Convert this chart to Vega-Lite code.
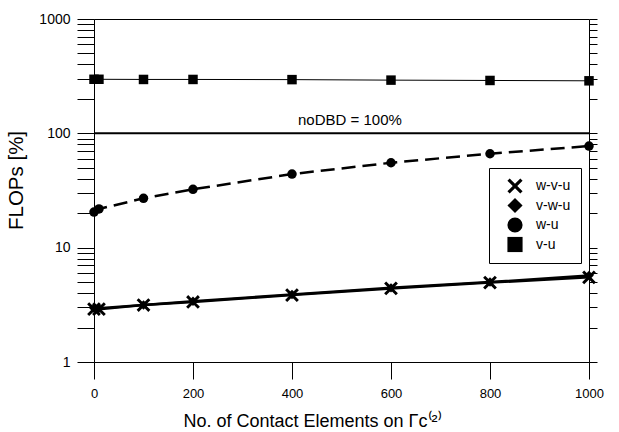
{
  "$schema": "https://vega.github.io/schema/vega-lite/v6.json",
  "width": 495,
  "height": 343,
  "autosize": {"type": "none"},
  "padding": {"left": 94, "top": 19, "right": 30, "bottom": 70},
  "background": "white",
  "config": {
    "font": "Liberation Sans",
    "view": {"stroke": "black", "strokeWidth": 1},
    "axis": {"domainColor": "black", "tickColor": "black", "labelColor": "black", "titleColor": "black", "grid": false, "titleFontWeight": "normal"}
  },
  "datasets": {
    "main": [
      {"n": 0, "value": 2.9, "series": "w-v-u"},
      {"n": 10, "value": 2.9, "series": "w-v-u"},
      {"n": 100, "value": 3.15, "series": "w-v-u"},
      {"n": 200, "value": 3.35, "series": "w-v-u"},
      {"n": 400, "value": 3.85, "series": "w-v-u"},
      {"n": 600, "value": 4.4, "series": "w-v-u"},
      {"n": 800, "value": 4.95, "series": "w-v-u"},
      {"n": 1000, "value": 5.5, "series": "w-v-u"},
      {"n": 0, "value": 2.95, "series": "v-w-u"},
      {"n": 10, "value": 2.95, "series": "v-w-u"},
      {"n": 100, "value": 3.15, "series": "v-w-u"},
      {"n": 200, "value": 3.4, "series": "v-w-u"},
      {"n": 400, "value": 3.9, "series": "v-w-u"},
      {"n": 600, "value": 4.45, "series": "v-w-u"},
      {"n": 800, "value": 5.0, "series": "v-w-u"},
      {"n": 1000, "value": 5.7, "series": "v-w-u"},
      {"n": 0, "value": 20.5, "series": "w-u"},
      {"n": 10, "value": 21.8, "series": "w-u"},
      {"n": 100, "value": 27, "series": "w-u"},
      {"n": 200, "value": 32.4, "series": "w-u"},
      {"n": 400, "value": 44, "series": "w-u"},
      {"n": 600, "value": 55.3, "series": "w-u"},
      {"n": 800, "value": 66.3, "series": "w-u"},
      {"n": 1000, "value": 77.4, "series": "w-u"},
      {"n": 0, "value": 297, "series": "v-u"},
      {"n": 10, "value": 297, "series": "v-u"},
      {"n": 100, "value": 296, "series": "v-u"},
      {"n": 200, "value": 296, "series": "v-u"},
      {"n": 400, "value": 295, "series": "v-u"},
      {"n": 600, "value": 292, "series": "v-u"},
      {"n": 800, "value": 290, "series": "v-u"},
      {"n": 1000, "value": 288, "series": "v-u"}
    ],
    "ref": [{"n": 517, "value": 130, "base": 100, "label": "noDBD = 100%"}]
  },
  "resolve": {"axis": {"y": "independent"}},
  "layer": [
    {
      "data": {"name": "main"},
      "transform": [{"filter": "datum.series == 'w-v-u' || datum.series == 'v-w-u'"}],
      "mark": {"type": "line", "color": "black", "strokeWidth": 2.5},
      "encoding": {
        "x": {
          "field": "n", "type": "quantitative",
          "scale": {"domain": [0, 1000], "nice": false},
          "axis": {"values": [0, 200, 400, 600, 800, 1000], "format": "d", "tickSize": 17, "labelPadding": 8, "labelFontSize": 13, "title": "No. of Contact Elements on Γc⁽²⁾", "titleFontSize": 18, "titlePadding": 12, "titleX": 218, "titleAlign": "center", "labelFlush": false}
        },
        "y": {
          "field": "value", "type": "quantitative",
          "scale": {"type": "log", "domain": [1, 1000], "nice": false},
          "axis": {
            "orient": "left",
            "values": [1, 2, 3, 4, 5, 6, 7, 8, 9, 10, 20, 30, 40, 50, 60, 70, 80, 90, 100, 200, 300, 400, 500, 600, 700, 800, 900, 1000],
            "labelExpr": "(datum.value == 1 || datum.value == 10 || datum.value == 100 || datum.value == 1000) ? format(datum.value, 'd') : ''",
            "tickSize": 17,
            "encode": {"ticks": {"update": {"x2": {"signal": "(datum.value == 1 || datum.value == 10 || datum.value == 100 || datum.value == 1000) ? -17 : -9"}}}},
            "labelPadding": 7, "labelFontSize": 14,
            "title": "FLOPs [%]", "titleFontSize": 20.5, "titlePadding": 12, "titleY": 161, "titleAlign": "center",
            "labelFlush": false
          }
        },
        "detail": {"field": "series"}
      }
    },
    {
      "data": {"name": "main"},
      "transform": [{"filter": "datum.series == 'w-u'"}],
      "mark": {"type": "line", "color": "black", "strokeWidth": 2.5, "strokeDash": [14, 7]},
      "encoding": {
        "x": {"field": "n", "type": "quantitative"},
        "y": {"field": "value", "type": "quantitative", "axis": null}
      }
    },
    {
      "data": {"name": "main"},
      "transform": [{"filter": "datum.series == 'v-u'"}],
      "mark": {"type": "line", "color": "black", "strokeWidth": 1},
      "encoding": {
        "x": {"field": "n", "type": "quantitative"},
        "y": {"field": "value", "type": "quantitative", "axis": null}
      }
    },
    {
      "data": {"name": "ref"},
      "mark": {"type": "rule", "color": "black", "strokeWidth": 2},
      "encoding": {"y": {"field": "base", "type": "quantitative", "axis": null}}
    },
    {
      "data": {"name": "main"},
      "transform": [{"filter": "datum.series != 'w-v-u'"}],
      "mark": {"type": "point", "filled": true, "color": "black", "opacity": 1, "size": 90},
      "encoding": {
        "x": {"field": "n", "type": "quantitative"},
        "y": {
          "field": "value", "type": "quantitative",
          "axis": {
            "orient": "right",
            "values": [1, 2, 3, 4, 5, 6, 7, 8, 9, 10, 20, 30, 40, 50, 60, 70, 80, 90, 100, 200, 300, 400, 500, 600, 700, 800, 900, 1000],
            "labels": false, "title": null, "domain": false,
            "tickSize": 8,
            "encode": {"ticks": {"update": {"x2": {"signal": "(datum.value == 1 || datum.value == 10 || datum.value == 100 || datum.value == 1000) ? -15 : -8"}}}}
          }
        },
        "shape": {
          "field": "series", "type": "nominal",
          "scale": {"domain": ["w-v-u", "v-w-u", "w-u", "v-u"], "range": ["M-1,-0.7L-0.7,-1L0,-0.3L0.7,-1L1,-0.7L0.3,0L1,0.7L0.7,1L0,0.3L-0.7,1L-1,0.7L-0.3,0Z", "diamond", "circle", "square"]},
          "legend": {
            "title": null, "orient": "none", "legendX": 395, "legendY": 149,
            "strokeColor": "black", "padding": 10, "fillColor": "white",
            "symbolSize": 230, "symbolOffset": 8, "symbolFillColor": "black", "symbolStrokeColor": "black", "symbolStrokeWidth": 0,
            "labelFontSize": 14, "labelOffset": 13, "rowPadding": 3.5
          }
        }
      }
    },
    {
      "data": {"name": "main"},
      "transform": [{"filter": "datum.series == 'w-v-u'"}],
      "mark": {"type": "point", "filled": true, "color": "black", "opacity": 1, "size": 190},
      "encoding": {
        "x": {"field": "n", "type": "quantitative"},
        "y": {"field": "value", "type": "quantitative", "axis": null},
        "shape": {"field": "series", "type": "nominal"}
      }
    },
    {
      "data": {"name": "ref"},
      "mark": {"type": "text", "fontSize": 15, "color": "black", "align": "center", "baseline": "middle"},
      "encoding": {
        "x": {"field": "n", "type": "quantitative"},
        "y": {"field": "value", "type": "quantitative", "axis": null},
        "text": {"field": "label"}
      }
    }
  ]
}
